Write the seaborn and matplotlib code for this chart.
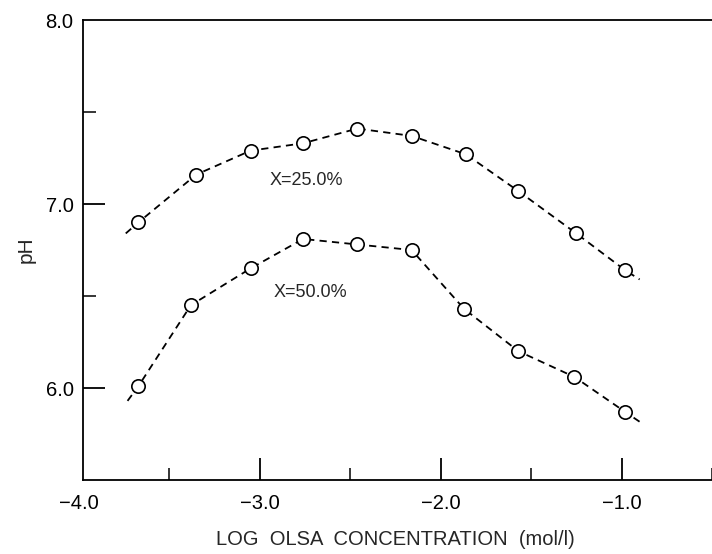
import matplotlib
matplotlib.use("Agg")
import matplotlib.pyplot as plt
import seaborn as sns
import pandas as pd
from matplotlib.ticker import FixedLocator

# ---- data ----
log_conc_25 = [-3.67, -3.35, -3.05, -2.76, -2.46, -2.16, -1.86, -1.57, -1.25, -0.98]
ph_25 = [6.90, 7.16, 7.29, 7.33, 7.41, 7.37, 7.27, 7.07, 6.84, 6.64]
log_conc_50 = [-3.67, -3.38, -3.05, -2.76, -2.46, -2.16, -1.87, -1.57, -1.26, -0.98]
ph_50 = [6.01, 6.45, 6.65, 6.81, 6.78, 6.75, 6.43, 6.20, 6.06, 5.87]
# dashed curve extends a little beyond the first/last points
line_start_25 = (-3.74, 6.84)
line_end_25 = (-0.90, 6.59)
line_start_50 = (-3.73, 5.93)
line_end_50 = (-0.89, 5.81)
labels = ["X=25.0%", "X=50.0%"]
x_major = [-4.0, -3.0, -2.0, -1.0]
x_major_labels = ["\u22124.0", "\u22123.0", "\u22122.0", "\u22121.0"]
x_minor = [-3.5, -2.5, -1.5, -0.5]
y_major = [6.0, 7.0, 8.0]
y_major_labels = ["6.0", "7.0", "8.0"]
y_minor = [6.5, 7.5]

sns.set_style("ticks")
plt.rcParams["font.family"] = ["Liberation Sans", "DejaVu Sans"]

fig = plt.figure(figsize=(7.12, 5.54), dpi=100)
ax = fig.add_axes([78.7 / 712, 1 - 480 / 554, 1 - 78.7 / 712, 460 / 554])

def build_line(xs, ys, start, end):
    return pd.DataFrame({
        "x": [start[0]] + list(xs) + [end[0]],
        "y": [start[1]] + list(ys) + [end[1]],
    })

for xs, ys, st, en in [(log_conc_25, ph_25, line_start_25, line_end_25),
                       (log_conc_50, ph_50, line_start_50, line_end_50)]:
    df_line = build_line(xs, ys, st, en)
    sns.lineplot(data=df_line, x="x", y="y", sort=False, estimator=None,
                 color="black", linewidth=1.3, ax=ax)
    ax.lines[-1].set_dashes((4.0, 2.9))
    df_pts = pd.DataFrame({"x": xs, "y": ys})
    sns.scatterplot(data=df_pts, x="x", y="y", ax=ax, s=92, marker="o",
                    facecolor="white", edgecolor="black", linewidth=1.2, zorder=5)

ax.set_xlim(-4.0, -0.5)
ax.set_ylim(5.5, 8.0)

ax.spines["right"].set_visible(False)
ax.spines["left"].set_position(("data", -3.975))
ax.spines["bottom"].set_bounds(-3.975, -0.5)
ax.spines["top"].set_bounds(-3.975, -0.5)
for sp in ax.spines.values():
    sp.set_linewidth(1.3)
    sp.set_color("black")

ax.xaxis.set_major_locator(FixedLocator(x_major))
ax.set_xticklabels(x_major_labels)
ax.xaxis.set_minor_locator(FixedLocator(x_minor))
ax.yaxis.set_major_locator(FixedLocator(y_major))
ax.set_yticklabels(y_major_labels)
ax.yaxis.set_minor_locator(FixedLocator(y_minor))

ax.tick_params(axis="both", which="major", direction="in", length=16, width=1.3,
               labelsize=14.5, colors="black")
ax.tick_params(axis="both", which="minor", direction="in", length=9, width=1.3)
ax.tick_params(axis="x", which="major", pad=10)
ax.tick_params(axis="y", which="major", pad=7)
ax.tick_params(top=False, right=False, which="both")
ax.xaxis.get_major_ticks()[0].tick1line.set_visible(False)
ax.yaxis.get_major_ticks()[2].tick1line.set_visible(False)

ax.set_xlabel("LOG  OLSA  CONCENTRATION  (mol/l)", fontsize=14.5, labelpad=12)
ax.set_ylabel("pH", fontsize=15, labelpad=7)

ax.text(-2.74, 7.13, labels[0], fontsize=13, ha="center", va="center")
ax.text(-2.72, 6.52, labels[1], fontsize=13, ha="center", va="center")

ax.grid(False)
fig.savefig("out.png", dpi=100)
